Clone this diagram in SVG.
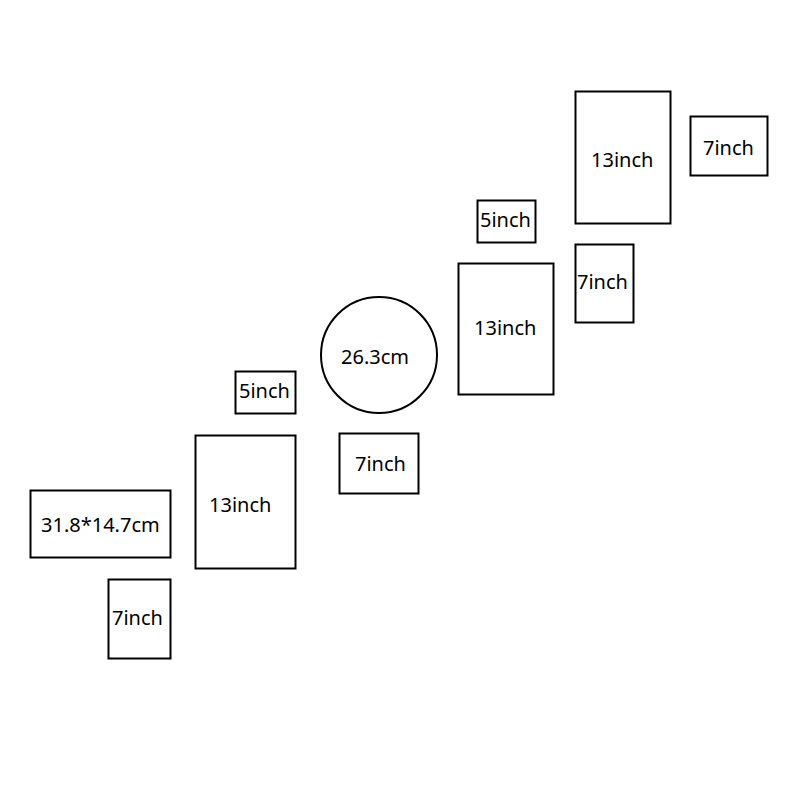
<svg xmlns="http://www.w3.org/2000/svg" width="800" height="800" viewBox="0 0 800 800">
<style>
.f{fill:none;stroke:#000;stroke-width:2}
.t{font-family:"Noto Sans","Open Sans",sans-serif;font-size:20px;fill:#000}
</style>
<rect width="800" height="800" fill="#fff"/>
<g id="n13a"><rect class="f" x="575.5" y="91.5" width="95" height="132"/><text class="t" x="591" y="167">13inch</text></g>
<g id="n7a"><rect class="f" x="690.5" y="116.5" width="77" height="59"/><text class="t" x="703" y="155">7inch</text></g>
<g id="n7b"><rect class="f" x="575.5" y="244.5" width="58" height="78"/><text class="t" x="577" y="289">7inch</text></g>
<g id="n5a"><rect class="f" x="477.5" y="200.5" width="58" height="42"/><text class="t" x="480" y="227">5inch</text></g>
<g id="n13b"><rect class="f" x="458.5" y="263.5" width="95" height="131"/><text class="t" x="474" y="335">13inch</text></g>
<g id="ncircle"><circle class="f" cx="379" cy="355" r="58"/><text class="t" x="341" y="364">26.3cm</text></g>
<g id="n7c"><rect class="f" x="339.5" y="433.5" width="79" height="60"/><text class="t" x="355" y="471">7inch</text></g>
<g id="n5b"><rect class="f" x="235.5" y="371.5" width="60" height="42"/><text class="t" x="239" y="398">5inch</text></g>
<g id="n13c"><rect class="f" x="195.5" y="435.5" width="100" height="133"/><text class="t" x="209" y="512">13inch</text></g>
<g id="nrect"><rect class="f" x="30.5" y="490.5" width="140" height="67"/><text class="t" x="41" y="532">31.8*14.7cm</text></g>
<g id="n7d"><rect class="f" x="108.5" y="579.5" width="62" height="79"/><text class="t" x="112" y="625">7inch</text></g>
<g id="connectors"/>
</svg>
